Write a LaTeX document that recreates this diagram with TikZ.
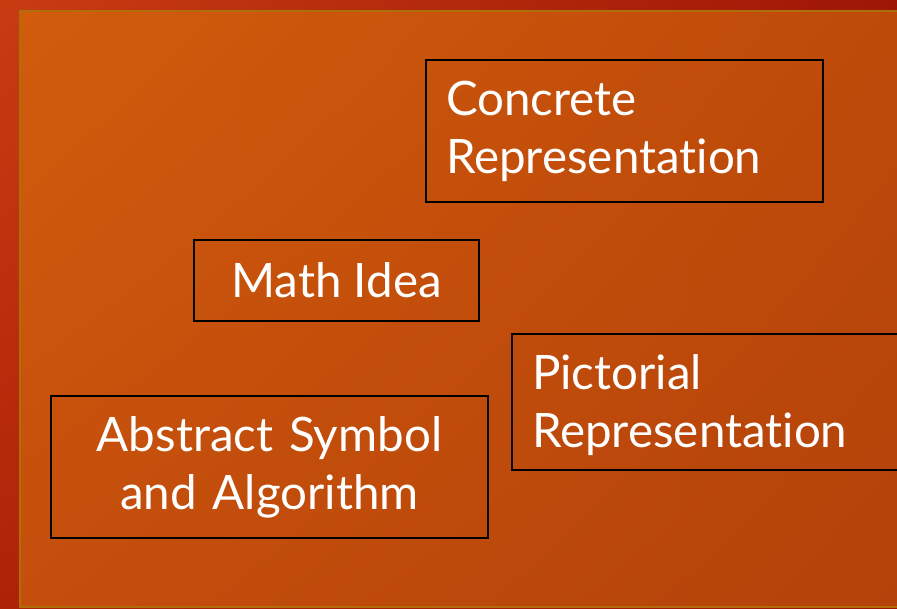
\documentclass[tikz,border=0pt]{standalone}
\usepackage{fontspec}
\setmainfont{Lato}[Ligatures=NoCommon]
\usetikzlibrary{shadings}
\definecolor{rimUL}{RGB}{200,60,18}
\definecolor{rimUR}{RGB}{158,22,6}
\definecolor{rimLL}{RGB}{174,34,8}
\definecolor{rimLR}{RGB}{158,22,6}
\definecolor{padUL}{RGB}{210,92,12}
\definecolor{padUR}{RGB}{190,74,10}
\definecolor{padLL}{RGB}{196,78,12}
\definecolor{padLR}{RGB}{180,66,10}
\definecolor{goldline}{RGB}{176,110,10}

\begin{document}
\begin{tikzpicture}[x=1pt,y=-1pt,
  box/.style={draw=black, line width=2pt, text=white, inner xsep=20pt,
    font=\fontsize{47.5}{58}\selectfont}]
\def\W{897}
\def\H{608}
\clip (0,0) rectangle (\W,\H);

% background
\shade[upper left=rimUL, upper right=rimUR, lower left=rimLL, lower right=rimLR]
  (0,0) rectangle (\W,\H);
\shade[upper left=padUL, upper right=padUR, lower left=padLL, lower right=padLR]
  (20,11) rectangle (\W+5,\H-1);
\draw[goldline, line width=2pt] (\W+5,11) -- (20,11) -- (20,\H-1) -- (\W+5,\H-1);

% the four boxes
\node[box, text width=357pt, minimum height=142pt, align=left] (concrete)
  at (624.5,131) {Concrete\\Representation};
\node[box, minimum width=285pt, minimum height=81pt, align=center] (idea)
  at (336.5,280.5) {Math Idea};
\node[box, text width=360pt, minimum height=136pt, align=left, text depth=60pt] (pictorial)
  at (712,402) {Pictorial\\Representation};
\node[box, text width=397pt, minimum height=142pt, align=center] (abstract)
  at (269.5,467) {Abstract Symbol\\and Algorithm};

\end{tikzpicture}
\end{document}
